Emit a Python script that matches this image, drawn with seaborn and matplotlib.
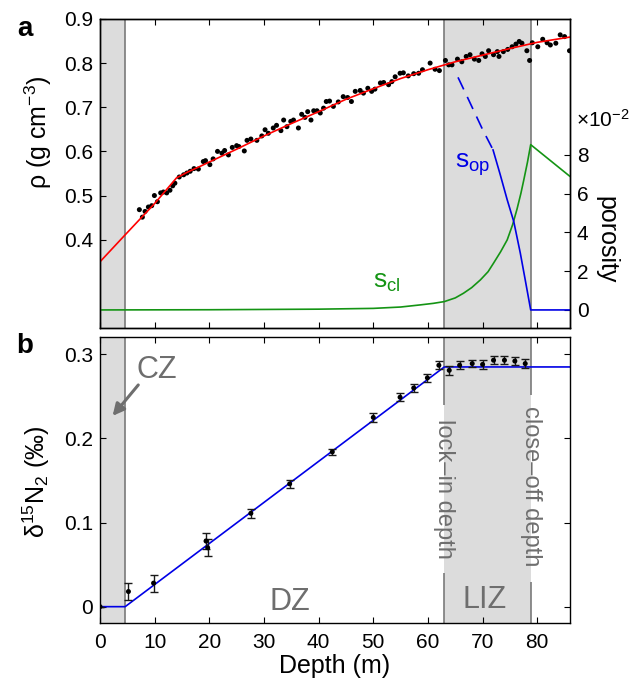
import numpy as np
import pandas as pd
import matplotlib
matplotlib.use("Agg")
import matplotlib.pyplot as plt
import seaborn as sns
from matplotlib.ticker import FuncFormatter

# ---------------- data ----------------
rho_depth = [7.2, 7.75, 8.24, 8.85, 9.46, 9.95, 10.5, 11.1, 11.6, 12.2, 12.8, 13.3, 13.7, 14.5, 15.3, 15.9, 16.5, 17.2, 18.0,
             18.9, 19.3, 20.1, 20.7, 21.5, 22.3, 22.8, 23.5, 24.2, 25.0, 25.4, 26.4, 26.9, 27.6, 28.7, 29.6, 30.2, 30.8, 31.7,
             32.3, 33.1, 33.6, 34.2, 34.9, 35.4, 36.3, 36.9, 37.5, 38.0, 38.6, 39.1, 39.7, 40.3, 40.9, 41.4, 42.0, 42.7, 43.6, 44.5, 45.3,
             46.0, 46.7, 47.6, 48.2, 49.0, 49.7, 50.3, 51.3, 51.9, 52.8, 53.4, 54.0, 54.9, 55.5, 56.4, 57.4, 58.3, 59.0,
             60.4, 61.3, 62.1, 63.2, 63.8, 64.4, 65.4, 66.2, 67.0, 67.7, 68.5, 69.3, 69.9, 70.5, 71.1, 72.0, 72.7,
             73.0, 73.8, 74.6, 75.4, 76.1, 76.7, 77.2, 78.1, 78.6, 79.1, 80.1, 81.0, 81.8, 82.4, 83.4, 84.2, 85.0, 85.9]
rho_val = [0.468, 0.451, 0.464, 0.474, 0.477, 0.500, 0.486, 0.506, 0.508, 0.506, 0.512, 0.522, 0.528, 0.542, 0.547, 0.551, 0.555, 0.561, 0.560,
           0.577, 0.579, 0.570, 0.583, 0.600, 0.596, 0.602, 0.592, 0.609, 0.613, 0.611, 0.601, 0.625, 0.628, 0.625, 0.635, 0.649, 0.641, 0.653,
           0.659, 0.647, 0.671, 0.656, 0.668, 0.671, 0.653, 0.684, 0.677, 0.690, 0.671, 0.692, 0.692, 0.687, 0.698, 0.713, 0.714, 0.702, 0.712, 0.724, 0.722,
           0.713, 0.736, 0.738, 0.732, 0.743, 0.736, 0.741, 0.755, 0.756, 0.751, 0.758, 0.769, 0.777, 0.778, 0.771, 0.776, 0.777, 0.785,
           0.800, 0.786, 0.783, 0.806, 0.796, 0.796, 0.809, 0.803, 0.815, 0.819, 0.809, 0.806, 0.821, 0.815, 0.828, 0.819, 0.826,
           0.815, 0.826, 0.831, 0.837, 0.843, 0.849, 0.845, 0.828, 0.806, 0.846, 0.837, 0.854, 0.846, 0.841, 0.845, 0.864, 0.860, 0.828]

fit_depth = [0, 4.6, 10, 14.0, 16, 18.3, 20, 25, 30, 35, 40, 45, 50, 55, 60, 65, 70, 75, 80, 86]
fit_val = [0.350, 0.411, 0.482, 0.540, 0.553, 0.566, 0.576, 0.605, 0.635, 0.663, 0.690, 0.718, 0.742, 0.765, 0.785, 0.803, 0.818, 0.833, 0.847, 0.859]

scl_depth = [0, 20, 40, 50, 55, 58.6, 61, 63, 65, 66.5, 68, 69.6, 71, 72, 73.3, 74.5, 75.5, 76.3, 77.0, 77.5, 78.2, 78.8, 86]
scl_val = [0.0, 0.0001, 0.0004, 0.0008, 0.0015, 0.0026, 0.0034, 0.0043, 0.0062, 0.0086, 0.0115, 0.0155, 0.0197, 0.0241, 0.0300, 0.0361, 0.0440, 0.0520, 0.0600, 0.0665, 0.0760, 0.0852, 0.0688]

sop_dash_depth = [65.5, 67.0, 68.5, 70.0, 71.9]
sop_dash_val = [0.1199, 0.1110, 0.1020, 0.0930, 0.0826]
sop_depth = [71.9, 73.2, 74.5, 75.7, 76.9, 77.8, 78.8, 86]
sop_val = [0.0826, 0.0700, 0.0568, 0.0456, 0.0293, 0.0155, 0.0, 0.0]

d15_depth = [0, 5.2, 9.8, 19.4, 19.7, 27.6, 34.7, 42.5, 50, 54.9, 57.4, 59.9, 62, 63.9, 65.8, 68.1, 70, 72, 74, 75.9, 77.8]
d15_val = [0.0, 0.018, 0.028, 0.078, 0.070, 0.111, 0.146, 0.184, 0.225, 0.249, 0.260, 0.272, 0.287, 0.281, 0.287, 0.289, 0.288, 0.293, 0.293, 0.292, 0.289]
d15_err = [0, 0.010, 0.010, 0.010, 0.010, 0.005, 0.005, 0.004, 0.005, 0.005, 0.005, 0.005, 0.005, 0.005, 0.005, 0.004, 0.005, 0.005, 0.005, 0.005, 0.005]

model_depth = [0, 4.6, 63, 86]
model_val = [0.0, 0.0, 0.285, 0.285]

cz_depth = 4.6
lockin_depth = 63.0
closeoff_depth = 78.8

x_ticks = [0, 10, 20, 30, 40, 50, 60, 70, 80]
rho_ticks = [0.4, 0.5, 0.6, 0.7, 0.8, 0.9]
por_ticks = [0, 0.02, 0.04, 0.06, 0.08]
d15_ticks = [0, 0.1, 0.2, 0.3]

# ---------------- style ----------------
sns.set_style("ticks")
plt.rcParams['font.family'] = ['Liberation Sans', 'DejaVu Sans']
plt.rcParams['mathtext.fontset'] = 'custom'
plt.rcParams['mathtext.rm'] = 'Liberation Sans'
plt.rcParams['mathtext.it'] = 'Liberation Sans:italic'
plt.rcParams['mathtext.bf'] = 'Liberation Sans:bold'
plt.rcParams['axes.edgecolor'] = 'black'
plt.rcParams['axes.linewidth'] = 1.0
plt.rcParams['text.color'] = 'black'
plt.rcParams['axes.labelcolor'] = 'black'
plt.rcParams['xtick.color'] = 'black'
plt.rcParams['ytick.color'] = 'black'

shade = '#dcdcdc'
zline = '#7a7a7a'
gtext = '#6e6e6e'
TICK = 15

fig = plt.figure(figsize=(6.35, 6.84), dpi=100)
ax1 = fig.add_axes([0.1575, 0.5205, 0.7402, 0.4518])
ax3 = fig.add_axes([0.1575, 0.0892, 0.7402, 0.4181])

# ---------------- panel a ----------------
ax1.axvspan(0, cz_depth, color=shade, lw=0, zorder=0)
ax1.axvspan(lockin_depth, closeoff_depth, color=shade, lw=0, zorder=0)
for xv in (cz_depth, lockin_depth, closeoff_depth):
    ax1.axvline(xv, color=zline, lw=1.2, zorder=1)

sns.scatterplot(x=rho_depth, y=rho_val, ax=ax1, color='black', s=13, edgecolor='none', zorder=3)
sns.lineplot(x=fit_depth, y=fit_val, ax=ax1, color='red', lw=1.2, sort=False, estimator=None, zorder=4)

ax1.set_xlim(0, 86)
ax1.set_ylim(0.2, 0.9)
ax1.set_yticks(rho_ticks)
ax1.set_yticklabels([f"{v:.1f}" for v in rho_ticks])
ax1.set_xticks(x_ticks)
ax1.tick_params(axis='x', which='both', direction='in', top=True, bottom=True, labelbottom=False, length=4)
ax1.tick_params(axis='y', direction='in', left=True, right=False, labelsize=TICK, length=4, pad=5)
ax1.set_ylabel(r"ρ (g cm$^{\mathregular{-3}}$)", fontsize=18, ha='center', va='center')
ax1.yaxis.set_label_coords(-0.132, 0.633)

ax2 = ax1.twinx()
sns.lineplot(x=scl_depth, y=scl_val, ax=ax2, color='#149414', lw=1.2, sort=False, estimator=None)
sns.lineplot(x=sop_dash_depth, y=sop_dash_val, ax=ax2, color='#0000e6', lw=1.2, sort=False, estimator=None)
ax2.lines[-1].set_dashes((8, 5))
sns.lineplot(x=sop_depth, y=sop_val, ax=ax2, color='#0000e6', lw=1.2, sort=False, estimator=None)
ax2.set_ylim(-0.0093, 0.150)
ax2.set_yticks(por_ticks)
ax2.yaxis.set_major_formatter(FuncFormatter(lambda v, p: f"{v*100:g}"))
ax2.tick_params(axis='y', direction='in', right=True, labelsize=TICK, length=4, pad=5)
ax2.set_ylabel("porosity", fontsize=18, rotation=270, ha='center', va='center')
ax2.yaxis.set_label_coords(1.078, 0.285)
ax2.text(1.012, 0.673, r"×10$^{\mathregular{-2}}$", transform=ax2.transAxes, fontsize=TICK,
         ha='left', va='center')
ax2.text(65.0, 0.0733, r"s$_{\mathregular{op}}$", color='#0000e6', fontsize=19, ha='left', va='baseline')
ax2.text(50.0, 0.0112, r"s$_{\mathregular{cl}}$", color='#149414', fontsize=19, ha='left', va='baseline')

# ---------------- panel b ----------------
ylo, yhi = -0.0194, 0.3206
ax3.axvspan(0, cz_depth, color=shade, lw=0, zorder=0)
ax3.axvspan(lockin_depth, closeoff_depth, color=shade, lw=0, zorder=0)
ax3.vlines(cz_depth, ylo, yhi, color=zline, lw=1.2, zorder=1)
ax3.vlines(lockin_depth, ylo, 0.0401, color=zline, lw=1.2, zorder=1)
ax3.vlines(lockin_depth, 0.2398, yhi, color=zline, lw=1.2, zorder=1)
ax3.vlines(closeoff_depth, ylo, 0.0293, color=zline, lw=1.2, zorder=1)
ax3.vlines(closeoff_depth, 0.2517, yhi, color=zline, lw=1.2, zorder=1)

sns.lineplot(x=model_depth, y=model_val, ax=ax3, color='#0000e6', lw=1.2, sort=False, estimator=None, zorder=2)
ax3.errorbar(d15_depth, d15_val, yerr=d15_err, fmt='none', ecolor='#1a1a1a', elinewidth=1.0,
             capsize=3, capthick=1.0, zorder=3)
sns.scatterplot(x=d15_depth, y=d15_val, ax=ax3, color='black', s=13, edgecolor='none', zorder=4)

ax3.text(lockin_depth, 0.1394, "lock–in depth", rotation=270, fontsize=17, color=gtext,
         ha='center', va='center', rotation_mode='anchor')
ax3.text(closeoff_depth, 0.143, "close–off depth", rotation=270, fontsize=17, color=gtext,
         ha='center', va='center', rotation_mode='anchor')
ax3.text(10.4, 0.2723, "CZ", fontsize=22, color=gtext, ha='center', va='baseline')
ax3.text(34.8, -0.004, "DZ", fontsize=22, color=gtext, ha='center', va='baseline')
ax3.text(70.3, -0.002, "LIZ", fontsize=22, color=gtext, ha='center', va='baseline')
ax3.annotate("", xy=(2.3, 0.2268), xytext=(7.0, 0.2636),
             arrowprops=dict(arrowstyle='-|>,head_length=0.7,head_width=0.35', color=gtext, lw=2.2,
                             shrinkA=0, shrinkB=0))

ax3.set_xlim(0, 86)
ax3.set_ylim(ylo, yhi)
ax3.set_xticks(x_ticks)
ax3.set_yticks(d15_ticks)
ax3.set_yticklabels(["0", "0.1", "0.2", "0.3"])
ax3.tick_params(axis='both', direction='in', top=True, right=True, labelsize=TICK, length=4)
ax3.tick_params(axis='y', pad=5)
ax3.tick_params(axis='x', pad=7)
ax3.set_xlabel("Depth (m)", fontsize=18, labelpad=2)
ax3.set_ylabel(r"δ$^{\mathregular{15}}$N$_{\mathregular{2}}$ (‰)", fontsize=18, ha='center', va='center')
ax3.yaxis.set_label_coords(-0.136, 0.494)

fig.text(25 / 635, 1 - 29 / 684, "a", fontsize=20, fontweight='bold', ha='center', va='center')
fig.text(25 / 635, 1 - 346 / 684, "b", fontsize=20, fontweight='bold', ha='center', va='center')

fig.savefig("out.png", dpi=100)
